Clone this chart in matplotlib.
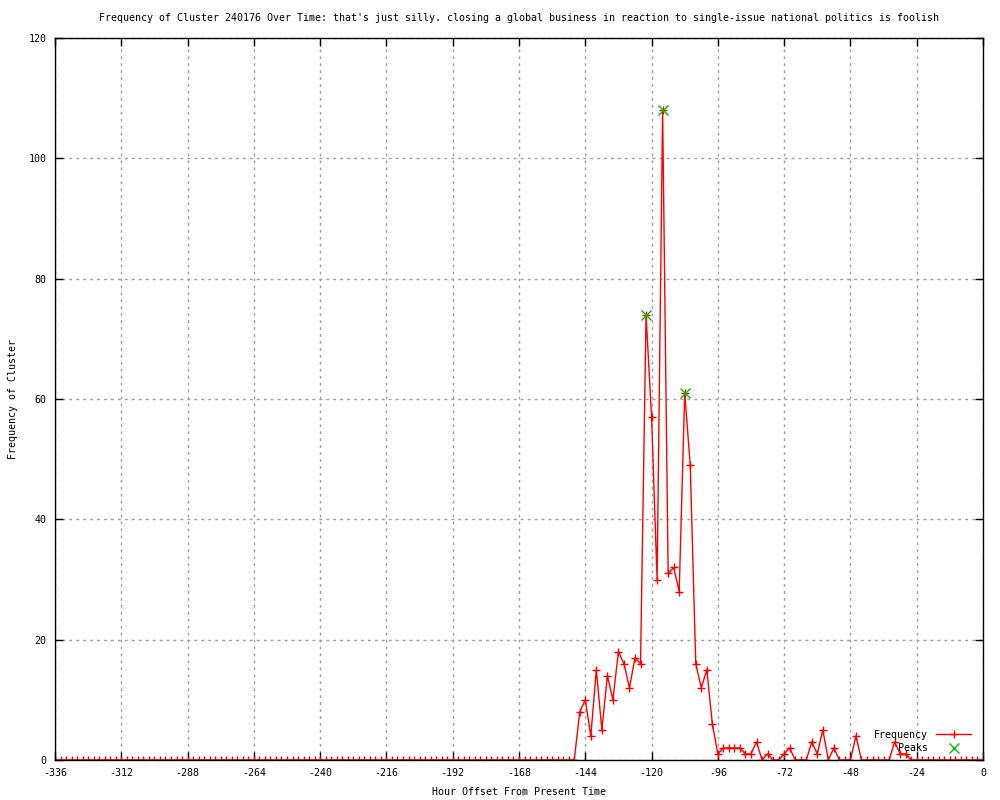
import numpy as np
import matplotlib
matplotlib.use("Agg")
import matplotlib.pyplot as plt

# 每 2 小時一筆資料，從 -336 到 0
hours = np.arange(-336, 1, 2)
freq = [0] * 95 + [
    8, 10, 4, 15, 5, 14, 10, 18, 16, 12, 17, 16,      # -146 .. -124
    74, 57, 30, 108, 31, 32, 28, 61, 49, 16, 12, 15,   # -122 .. -100
    6, 1, 2, 2, 2, 2, 1, 1, 3, 0, 1, 0,                # -98 .. -76
    0, 1, 2, 0, 0, 0, 3, 1, 5, 0, 2, 0,                # -74 .. -52
    0, 0, 4, 0, 0, 0, 0, 0, 0, 3, 1, 1,                # -50 .. -28
] + [0] * 14                                           # -26 .. 0

peak_hours = [-122, -116, -108]
peak_vals = [74, 108, 61]

title = ("Frequency of Cluster 240176 Over Time: that's just silly. closing a global "
         "business in reaction to single-issue national politics is foolish")

plt.rcParams['font.family'] = ['DejaVu Sans Mono']
plt.rcParams['axes.unicode_minus'] = False
fs = 7.2

fig = plt.figure(figsize=(10, 8), dpi=100)
ax = fig.add_axes([0.055, 0.05, 0.928, 0.9025])

ax.plot(hours, freq, color='red', lw=1, marker='+', ms=6, mew=1, label='Frequency')
ax.plot(peak_hours, peak_vals, ls='none', color='#00c000', marker='x', ms=6.5, mew=1, label='Peaks')

ax.set_xlim(-336, 0)
ax.set_ylim(0, 120)
ax.set_xticks(np.arange(-336, 1, 24))
ax.set_yticks(np.arange(0, 121, 20))
ax.tick_params(direction='in', length=6, width=1, top=True, right=True, labelsize=fs, pad=6)
ax.grid(True, color='#a0a0a0', linestyle=(0, (2, 3)), lw=1)
ax.set_axisbelow(True)
for s in ax.spines.values():
    s.set_linewidth(1)

ax.set_title(title, fontsize=fs, pad=12)
ax.set_xlabel('Hour Offset From Present Time', fontsize=fs, labelpad=6)
ax.set_ylabel('Frequency of Cluster', fontsize=fs, labelpad=8)

ax.legend(loc='lower right', frameon=False, markerfirst=False, fontsize=fs,
          handlelength=3.5, labelspacing=0.35, borderaxespad=0.3,
          bbox_to_anchor=(0.995, 0.0))

fig.savefig('out.png', dpi=100)
